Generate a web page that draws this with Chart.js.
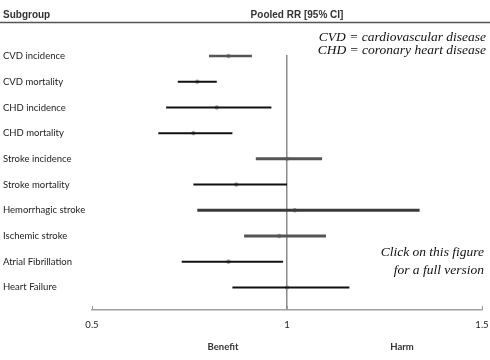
<!DOCTYPE html>
<html>
<head>
<meta charset="utf-8">
<script src="https://cdn.jsdelivr.net/npm/chart.js@4"></script>
<style>
html,body{margin:0;padding:0;background:#fff;}
#wrap{width:490px;height:360px;position:relative;}
</style>
</head>
<body>
<div id="wrap"><canvas id="c" width="490" height="360"></canvas></div>
<script>
const categories = ["CVD incidence","CVD mortality","CHD incidence","CHD mortality","Stroke incidence","Stroke mortality","Hemorrhagic stroke","Ischemic stroke","Atrial Fibrillation","Heart Failure"];
const pooledRR = [0.85, 0.77, 0.82, 0.76, 1.00, 0.87, 1.02, 0.98, 0.85, 1.00];
const lowerCI  = [0.80, 0.72, 0.69, 0.67, 0.92, 0.76, 0.77, 0.89, 0.73, 0.86];
const upperCI  = [0.91, 0.82, 0.96, 0.86, 1.09, 1.00, 1.34, 1.10, 0.99, 1.16];
const xTicks = [0.5, 1, 1.5];

const lineColors = ["#555","#111","#111","#111","#555","#111","#3a3a3a","#555","#111","#111"];
const lineWidths = [2.5,2,2,2,3,2,3,3,2,2];

const ciData = [];
categories.forEach((c,i)=>{
  ciData.push({x: lowerCI[i], y: i});
  ciData.push({x: upperCI[i], y: i});
  ciData.push({x: null, y: i});
});
const ptData = categories.map((c,i)=>({x: pooledRR[i], y: i}));

const decor = {
  id:'decor',
  afterDraw(chart){
    const ctx = chart.ctx;
    const xs = chart.scales.x;
    ctx.save();
    ctx.fillStyle = '#333';
    ctx.font = 'bold 10px "Liberation Sans", Arial, sans-serif';
    ctx.textBaseline = 'middle';
    ctx.textAlign = 'left';
    ctx.fillText('Subgroup', 3, 15);
    ctx.textAlign = 'center';
    ctx.fillText('Pooled RR [95% CI]', 297, 15);
    ctx.strokeStyle = '#555';
    ctx.lineWidth = 1.5;
    ctx.beginPath(); ctx.moveTo(0, 22.5); ctx.lineTo(490, 22.5); ctx.stroke();
    ctx.strokeStyle = '#999';
    ctx.lineWidth = 1;
    const yb = chart.chartArea.bottom;
    xTicks.forEach(v=>{
      const px = Math.round(xs.getPixelForValue(v)) + 0.5;
      ctx.beginPath(); ctx.moveTo(px, yb); ctx.lineTo(px, yb-4); ctx.stroke();
    });
    ctx.fillStyle = '#111';
    ctx.font = 'italic 13.5px "Liberation Serif", "DejaVu Serif", serif';
    ctx.textAlign = 'right';
    ctx.fillText('CVD = cardiovascular disease', 486, 37);
    ctx.fillText('CHD = coronary heart disease', 486, 50);
    ctx.fillText('Click on this figure', 484, 252);
    ctx.fillText('for a full version', 484, 270);
    ctx.fillStyle = '#333';
    ctx.font = 'bold 9.5px Lato, "Open Sans", sans-serif';
    ctx.textAlign = 'center';
    ctx.fillText('Benefit', 223, 347);
    ctx.fillText('Harm', 402, 347);
    ctx.restore();
  }
};

new Chart(document.getElementById('c'), {
  type: 'scatter',
  data: {
    datasets: [
      {
        data: ciData,
        showLine: true,
        spanGaps: false,
        pointRadius: 0,
        pointHoverRadius: 0,
        borderColor: '#111',
        borderWidth: 2,
        clip: false,
        segment: {
          borderColor: ctx => lineColors[ctx.p0.parsed.y],
          borderWidth: ctx => lineWidths[ctx.p0.parsed.y]
        }
      },
      {
        data: ptData,
        pointRadius: 1.8,
        pointBackgroundColor: '#b0b0b0',
        pointBorderColor: '#888',
        pointBorderWidth: 0.8,
        clip: false
      }
    ]
  },
  options: {
    responsive: false,
    animation: false,
    events: [],
    layout: { padding: { left: 3, right: 8, top: 55, bottom: 0 } },
    plugins: { legend: { display: false }, tooltip: { enabled: false } },
    scales: {
      x: {
        type: 'linear',
        min: 0.5, max: 1.5,
        afterBuildTicks: s => { s.ticks = xTicks.map(v => ({value: v})); },
        afterFit: s => { s.height = 50; s.paddingLeft = 0; s.paddingRight = 0; },
        border: { display: true, color: '#a0a0a0', width: 1.5 },
        grid: {
          drawTicks: false,
          color: c => (c.tick && c.tick.value === 1) ? '#8a8a8a' : 'rgba(0,0,0,0)',
          lineWidth: 1.5
        },
        ticks: {
          padding: 9,
          color: '#222',
          font: { family: 'Lato, "Open Sans", sans-serif', size: 9.5 },
          callback: v => String(v)
        }
      },
      y: {
        type: 'linear',
        reverse: true,
        min: -0.04, max: 9.88,
        afterBuildTicks: s => { s.ticks = categories.map((c,i) => ({value: i})); },
        afterFit: s => { s.width = 89; s.paddingTop = 0; s.paddingBottom = 0; },
        border: { display: false },
        grid: { display: false, drawTicks: false },
        ticks: {
          crossAlign: 'far',
          padding: 0,
          color: '#222',
          autoSkip: false,
          font: { family: 'Lato, "Open Sans", sans-serif', size: 9.5 },
          callback: v => categories[v] || ''
        }
      }
    }
  },
  plugins: [decor]
});
</script>
</body>
</html>
